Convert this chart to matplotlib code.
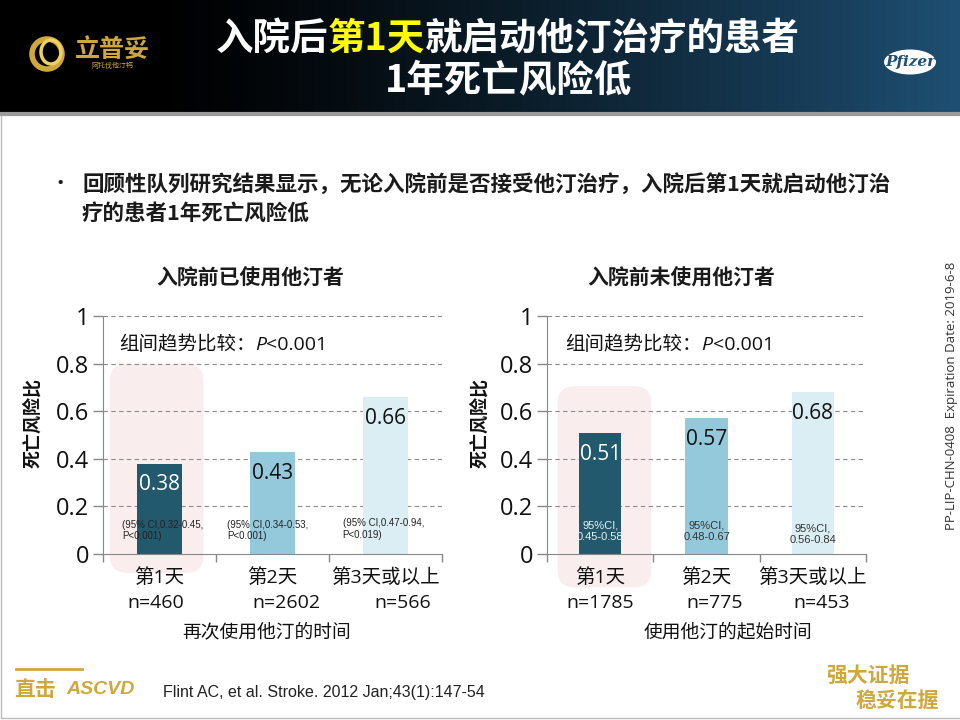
import numpy as np
import matplotlib.pyplot as plt
from matplotlib.patches import FancyBboxPatch, Ellipse

plt.rcParams['font.family'] = ['Open Sans', 'Noto Sans CJK SC', 'DejaVu Sans']

# data
categories = ['第1天', '第2天', '第3天或以上']
n_left = ['n=460', 'n=2602', 'n=566']
n_right = ['n=1785', 'n=775', 'n=453']
hr_left = [0.38, 0.43, 0.66]
hr_right = [0.51, 0.57, 0.68]
ci_left = ['(95% CI,0.32-0.45,\nP<0.001)', '(95% CI,0.34-0.53,\nP<0.001)',
           '(95% CI,0.47-0.94,\nP<0.019)']
ci_right = ['95%CI,\n0.45-0.58', '95%CI,\n0.48-0.67', '95%CI,\n0.56-0.84']
yticks = [0, 0.2, 0.4, 0.6, 0.8, 1]
ytick_labels = ['0', '0.2', '0.4', '0.6', '0.8', '1']

bar_colors = ['#22596c', '#94c9db', '#dbeef4']
value_colors = ['white', '#111111', '#111111']
gold = '#cfa83c'

fig = plt.figure(figsize=(9.6, 7.2), dpi=100)

# background layer in pixel coordinates
bg = fig.add_axes([0, 0, 1, 1], zorder=0)
bg.set_xlim(0, 960)
bg.set_ylim(720, 0)
bg.axis('off')

# header gradient
gx = np.linspace(0, 1, 300)
t = np.clip((gx - 0.15) / 0.85, 0, 1) ** 1.3
c0 = np.array([0.0, 0.0, 0.0])
c1 = np.array([0.12, 0.31, 0.45])
row = c0[None, :] * (1 - t[:, None]) + c1[None, :] * t[:, None]
grad = np.repeat(row[None, :, :], 20, axis=0)
bg.imshow(grad, extent=[0, 960, 112, 0], aspect='auto', zorder=1)
bg.plot([0, 960], [114, 114], color='#9a9a9a', lw=3, zorder=2)
bg.plot([1, 1, 959], [116, 718, 718], color='#bbbbbb', lw=1, zorder=2)

fig.canvas.draw()
renderer = fig.canvas.get_renderer()


def layout_pieces(ax, pieces, x, y, align='left', **kw):
    # place text pieces one after another on a line
    objs = []
    for s, props in pieces:
        p = dict(kw)
        p.update(props)
        objs.append(ax.text(0, y, s, va='center', ha='left', **p))
    inv = ax.transData.inverted()
    widths = []
    for o in objs:
        bb = o.get_window_extent(renderer)
        widths.append(inv.transform((bb.x1, bb.y0))[0] - inv.transform((bb.x0, bb.y0))[0])
    if align == 'center':
        x = x - sum(widths) / 2
    for o, w in zip(objs, widths):
        o.set_x(x)
        x += w


cjk = ['Noto Sans CJK SC']
layout_pieces(bg, [('入院后', {'color': 'white'}), ('第1天', {'color': '#ffff00'}),
                   ('就启动他汀治疗的患者', {'color': 'white'})],
              508, 38, align='center', fontsize=27, fontweight='bold', family=cjk, zorder=5)
bg.text(508, 80, '1年死亡风险低', color='white', fontsize=27, fontweight='bold',
        family=cjk, ha='center', va='center', zorder=5)

# brand logo (left) and pfizer logo (right)
bg.add_patch(Ellipse((47, 54), 30, 30, fill=False, ec=gold, lw=4, zorder=5))
bg.add_patch(Ellipse((51, 52), 20, 24, fill=False, ec='#f0d060', lw=2.5, zorder=5))
bg.text(112, 50, '立普妥', color=gold, fontsize=18, fontweight='bold',
        family=cjk, ha='center', va='center', zorder=5)
bg.text(112, 66, '阿托伐他汀钙', color=gold, fontsize=5,
        family=cjk, ha='center', va='center', zorder=5)
bg.add_patch(Ellipse((910, 62), 52, 25, fc='white', ec='none', zorder=5))
bg.text(910, 62, 'Pfizer', color='#1c4f73', fontsize=11, fontweight='bold',
        style='italic', family=['DejaVu Serif'], ha='center', va='center', zorder=6)

# bullet text and panel titles
bg.text(56, 184, '•', fontsize=14, color='#1a1a1a', ha='left', va='center')
bg.text(82, 184, '回顾性队列研究结果显示，无论入院前是否接受他汀治疗，入院后第1天就启动他汀治',
        fontsize=15.5, fontweight='bold', color='#1a1a1a', family=cjk,
        ha='left', va='center')
bg.text(82, 213, '疗的患者1年死亡风险低', fontsize=15.5, fontweight='bold', color='#1a1a1a',
        family=cjk, ha='left', va='center')
bg.text(250, 278, '入院前已使用他汀者', fontsize=15, fontweight='bold', color='#1a1a1a',
        family=cjk, ha='center', va='center')
bg.text(681, 278, '入院前未使用他汀者', fontsize=15, fontweight='bold', color='#1a1a1a',
        family=cjk, ha='center', va='center')

# footer
bg.text(163, 693, 'Flint AC, et al. Stroke. 2012 Jan;43(1):147-54', fontsize=11.5,
        color='#222222', family=['Liberation Sans'], ha='left', va='center')
bg.plot([16, 82], [669, 669], color=gold, lw=2)
bg.text(14, 690, '直击', fontsize=15, fontweight='bold', color=gold,
        family=cjk, ha='left', va='center')
bg.text(66, 690, 'ASCVD', fontsize=14, fontweight='bold', color=gold, style='italic',
        family=['Liberation Sans'], ha='left', va='center')
bg.text(826, 676, '强大证据', fontsize=15, fontweight='bold', color=gold,
        family=cjk, ha='left', va='center')
bg.text(856, 701, '稳妥在握', fontsize=15, fontweight='bold', color=gold,
        family=cjk, ha='left', va='center')
bg.text(951, 396, 'PP-LIP-CHN-0408  Expiration Date: 2019-6-8', fontsize=9.5,
        color='#333333', rotation=90, ha='center', va='center')


def draw_panel(ax, values, n_labels, ci, ci_dx, xlabel, hl, n_dx, ci_y,
               ylab_x, p_x, xlabel_x):
    x = np.arange(len(values))
    ax.set_xlim(-0.5, 2.5)
    ax.set_ylim(0, 1)
    ext = ax.get_window_extent(renderer)
    aspect = (1 / ext.height) / (3 / ext.width)
    # pink highlight behind first group
    ax.add_patch(FancyBboxPatch((hl[0], hl[2]), hl[1] - hl[0], hl[3] - hl[2],
                                boxstyle='round,pad=0,rounding_size=0.16',
                                mutation_aspect=aspect, fc='#f9eded', ec='none',
                                clip_on=False, zorder=0))
    for yv in yticks[1:]:
        ax.axhline(yv, color='#8c8c8c', lw=0.8, ls=(0, (4, 3)), zorder=1)
    ax.bar(x, values, width=0.4, color=bar_colors, zorder=2)
    for i, v in enumerate(values):
        ax.text(x[i], v - 0.09, f'{v:.2f}', color=value_colors[i], fontsize=15,
                ha='center', va='center', zorder=3)
        ax.text(x[i], -0.10, categories[i], fontsize=14, color='#111111',
                ha='center', va='center', clip_on=False)
        ax.text(x[i] + n_dx[i], -0.205, n_labels[i], fontsize=14, color='#111111',
                ha='center', va='center', clip_on=False)
        if ci_dx is not None:
            ax.text(x[i] + ci_dx[i], ci_y[i], ci[i], fontsize=7,
                    family=['Liberation Sans'], color='#222222', ha='left',
                    va='center', linespacing=1.15, zorder=3)
        else:
            ax.text(x[i], ci_y[i], ci[i], fontsize=8, family=['Liberation Sans'],
                    color='#e8f2f5' if i == 0 else '#333333', ha='center',
                    va='center', linespacing=1.15, zorder=3)
    layout_pieces(ax, [('组间趋势比较：', {'family': cjk}),
                       ('P', {'style': 'italic'}), ('<0.001', {})],
                  p_x, 0.88, fontsize=14, color='#111111', zorder=3)
    ax.text(xlabel_x, -0.33, xlabel, fontsize=13.5,
            color='#111111', ha='center', va='center', clip_on=False)
    ax.set_yticks(yticks)
    ax.set_yticklabels(ytick_labels, fontsize=17, color='#111111')
    ax.set_xticks([-0.5, 0.5, 1.5, 2.5])
    ax.set_xticklabels([])
    ax.tick_params(axis='y', length=7, width=1, color='#888888', pad=3)
    ax.tick_params(axis='x', length=6, width=1, color='#888888', direction='out')
    for s in ['top', 'right']:
        ax.spines[s].set_visible(False)
    for s in ['left', 'bottom']:
        ax.spines[s].set_color('#888888')
    ax.set_ylabel('死亡风险比', fontsize=13, fontweight='bold', color='#111111',
                  family=cjk)
    ax.yaxis.set_label_coords(ylab_x, 0.55)
    ax.set_facecolor('none')


axL = fig.add_axes([103 / 960, 1 - 554 / 720, 339 / 960, 238 / 720], zorder=2)
axR = fig.add_axes([547 / 960, 1 - 554 / 720, 319 / 960, 238 / 720], zorder=2)

draw_panel(axL, hr_left, n_left, ci_left, [-0.33, -0.40, -0.38], '再次使用他汀的时间',
           (-0.44, 0.39, -0.08, 0.80), [-0.03, 0.12, 0.15], [0.10, 0.10, 0.105],
           -0.177, -0.36, 0.95)
draw_panel(axR, hr_right, n_right, ci_right, None, '使用他汀的起始时间',
           (-0.40, 0.48, -0.14, 0.705), [0.0, 0.08, 0.08], [0.097, 0.097, 0.084],
           -0.179, -0.33, 1.2)

fig.savefig('out.png', dpi=100)
